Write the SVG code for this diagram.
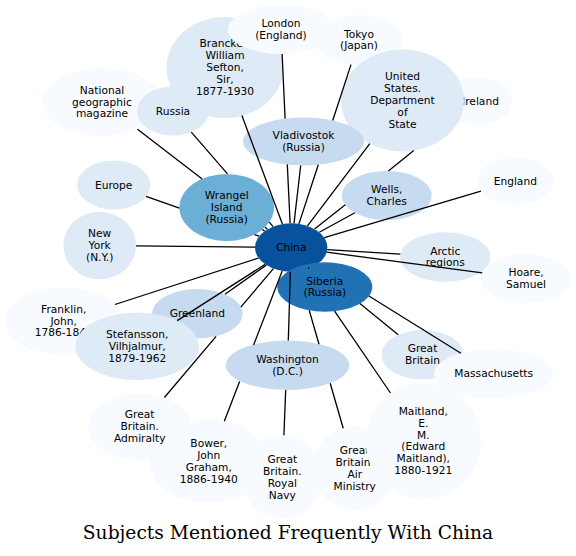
<svg xmlns="http://www.w3.org/2000/svg" width="576" height="556" viewBox="0 0 576 556">
<style>
.n text{font-family:"DejaVu Sans",Verdana,sans-serif;font-size:10.67px;text-anchor:middle;fill:#000}
.c1{fill:#f7fbff}.c2{fill:#deebf7}.c3{fill:#c6dbef}.c5{fill:#6baed6}.c7{fill:#2171b5}.c8{fill:#08519c}
#edges path{fill:none;stroke:#000;stroke-width:1.3}
.title{font-family:"DejaVu Serif",serif;font-size:18.67px;text-anchor:middle;fill:#000}
</style>
<rect width="576" height="556" fill="#fff"/>
<g id="nodes">
<g id="natgeo" class="n"><ellipse class="c1" cx="102" cy="102" rx="59.5" ry="34"/><text x="102" y="93.6">National</text><text x="102" y="105.5">geographic</text><text x="102" y="117.4">magazine</text></g>
<g id="russia" class="n"><ellipse class="c2" cx="173" cy="111" rx="36" ry="24.5"/><text x="173" y="114.5">Russia</text></g>
<g id="brancker" class="n"><ellipse class="c2" cx="225" cy="67.5" rx="58.5" ry="50.5"/><text x="225" y="47.2">Brancker,</text><text x="225" y="59.1">William</text><text x="225" y="71">Sefton,</text><text x="225" y="82.9">Sir,</text><text x="225" y="94.8">1877-1930</text></g>
<g id="london" class="n"><ellipse class="c1" cx="281" cy="29.5" rx="53" ry="24.5"/><text x="281" y="27.05">London</text><text x="281" y="38.95">(England)</text></g>
<g id="tokyo" class="n"><ellipse class="c1" cx="359" cy="40" rx="44" ry="25"/><text x="359" y="37.55">Tokyo</text><text x="359" y="49.45">(Japan)</text></g>
<g id="ireland" class="n"><ellipse class="c1" cx="477" cy="101" rx="35" ry="24"/><text x="480.5" y="104.5">Ireland</text></g>
<g id="state" class="n"><ellipse class="c2" cx="402.5" cy="100.5" rx="61.5" ry="51"/><text x="402.5" y="80.2">United</text><text x="402.5" y="92.1">States.</text><text x="402.5" y="104">Department</text><text x="402.5" y="115.9">of</text><text x="402.5" y="127.8">State</text></g>
<g id="vladivostok" class="n"><ellipse class="c3" cx="303.5" cy="141.5" rx="60.5" ry="24"/><text x="303.5" y="139.05">Vladivostok</text><text x="303.5" y="150.95">(Russia)</text></g>
<g id="europe" class="n"><ellipse class="c2" cx="113.7" cy="185" rx="36.5" ry="24.5"/><text x="113.7" y="188.5">Europe</text></g>
<g id="wrangel" class="n"><ellipse class="c5" cx="226.7" cy="207.5" rx="47.3" ry="33.5"/><text x="226.7" y="199.1">Wrangel</text><text x="226.7" y="211">Island</text><text x="226.7" y="222.9">(Russia)</text></g>
<g id="wells" class="n"><ellipse class="c3" cx="386.7" cy="195.5" rx="45" ry="24.5"/><text x="386.7" y="193.05">Wells,</text><text x="386.7" y="204.95">Charles</text></g>
<g id="england" class="n"><ellipse class="c1" cx="515.3" cy="181" rx="38" ry="24"/><text x="515.3" y="184.5">England</text></g>
<g id="newyork" class="n"><ellipse class="c2" cx="99.7" cy="245.5" rx="36.3" ry="33.8"/><text x="99.7" y="237.1">New</text><text x="99.7" y="249">York</text><text x="99.7" y="260.9">(N.Y.)</text></g>
<g id="china" class="n"><ellipse class="c8" cx="291.2" cy="247.5" rx="36.2" ry="24.2"/><text x="291.2" y="251">China</text></g>
<g id="siberia" class="n"><ellipse class="c7" cx="324.8" cy="287" rx="47.5" ry="24.7"/><text x="324.8" y="284.55">Siberia</text><text x="324.8" y="296.45">(Russia)</text></g>
<g id="arctic" class="n"><ellipse class="c2" cx="445.3" cy="257" rx="45.3" ry="24.7"/><text x="445.3" y="254.55">Arctic</text><text x="445.3" y="266.45">regions</text></g>
<g id="hoare" class="n"><ellipse class="c1" cx="526" cy="278.7" rx="45" ry="24.7"/><text x="526" y="276.25">Hoare,</text><text x="526" y="288.15">Samuel</text></g>
<g id="franklin" class="n"><ellipse class="c1" cx="63.7" cy="321" rx="58.7" ry="33.8"/><text x="63.7" y="312.6">Franklin,</text><text x="63.7" y="324.5">John,</text><text x="63.7" y="336.4">1786-1842</text></g>
<g id="greenland" class="n"><ellipse class="c3" cx="197.3" cy="313.7" rx="45.3" ry="24.7"/><text x="197.3" y="317.2">Greenland</text></g>
<g id="stefansson" class="n"><ellipse class="c2" cx="137.2" cy="346.3" rx="61.8" ry="33.7"/><text x="137.2" y="337.9">Stefansson,</text><text x="137.2" y="349.8">Vilhjalmur,</text><text x="137.2" y="361.7">1879-1962</text></g>
<g id="washington" class="n"><ellipse class="c3" cx="287.5" cy="365.3" rx="61.8" ry="24.7"/><text x="287.5" y="362.85">Washington</text><text x="287.5" y="374.75">(D.C.)</text></g>
<g id="greatbritain" class="n"><ellipse class="c2" cx="422.5" cy="354.7" rx="41" ry="24.7"/><text x="422.5" y="352.25">Great</text><text x="422.5" y="364.15">Britain</text></g>
<g id="massachusetts" class="n"><ellipse class="c1" cx="493.7" cy="373.8" rx="59.7" ry="24.5"/><text x="493.7" y="377.3">Massachusetts</text></g>
<g id="bower" class="n"><ellipse class="c1" cx="208.8" cy="461.5" rx="58.8" ry="41.7"/><text x="208.8" y="447.15">Bower,</text><text x="208.8" y="459.05">John</text><text x="208.8" y="470.95">Graham,</text><text x="208.8" y="482.85">1886-1940</text></g>
<g id="admiralty" class="n"><ellipse class="c1" cx="139.7" cy="426.7" rx="51.4" ry="33.3"/><text x="139.7" y="418.3">Great</text><text x="139.7" y="430.2">Britain.</text><text x="139.7" y="442.1">Admiralty</text></g>
<g id="royalnavy" class="n"><ellipse class="c1" cx="282.3" cy="477.2" rx="40" ry="42"/><text x="282.3" y="462.85">Great</text><text x="282.3" y="474.75">Britain.</text><text x="282.3" y="486.65">Royal</text><text x="282.3" y="498.55">Navy</text></g>
<g id="airministry" class="n"><ellipse class="c1" cx="354.7" cy="468.3" rx="42" ry="41.7"/><text x="354.7" y="453.95">Great</text><text x="354.7" y="465.85">Britain.</text><text x="354.7" y="477.75">Air</text><text x="354.7" y="489.65">Ministry</text></g>
<g id="maitland" class="n"><ellipse class="c1" cx="423.3" cy="441" rx="57.7" ry="58.3"/><text x="423.3" y="414.75">Maitland,</text><text x="423.3" y="426.65">E.</text><text x="423.3" y="438.55">M.</text><text x="423.3" y="450.45">(Edward</text><text x="423.3" y="462.35">Maitland),</text><text x="423.3" y="474.25">1880-1921</text></g>
</g>
<g id="edges">
<path d="M282.4,224 L241.9,115.5"/>
<path d="M282.1,54 L285.1,118.6 M287.3,164.4 L290.1,223.3"/>
<path d="M351,64.6 L332.7,120.5 M318.3,164.7 L298.9,223.9"/>
<path d="M294,223.4 L300.7,165.5"/>
<path d="M307.5,225.9 L369.8,143.7"/>
<path d="M314.6,229 L345.3,204.8 M388.4,170.9 L413.8,150.6"/>
<path d="M319.3,232.2 L354.9,212.8"/>
<path d="M324.3,237.7 L480.9,191.2"/>
<path d="M327.2,249.7 L400.3,254.2"/>
<path d="M326.7,252.2 L482.3,272.9"/>
<path d="M309.1,268.5 L308.2,267.4"/>
<path d="M359.9,303.6 L398.2,334.8"/>
<path d="M368.9,296 L460.9,353.3"/>
<path d="M334.6,311.1 L390.5,393"/>
<path d="M309.2,310.3 L319,344.2 M330.2,383.3 L343.2,428.2"/>
<path d="M290.4,271.7 L288.3,340.6"/>
<path d="M285.7,390 L283.9,435.2"/>
<path d="M282.2,270.9 L253.6,345 M239.6,381.6 L224.3,421.3"/>
<path d="M273.4,268.6 L240.8,307.1 M216.1,336.3 L164.4,397.5"/>
<path d="M266.3,265.1 L225,294.2"/>
<path d="M265.1,264.3 L177.2,320.6"/>
<path d="M258.6,258 L114.9,304.5"/>
<path d="M255,247.1 L136,245.9"/>
<path d="M259.2,236.2 L254.5,234.6 M179.4,208.1 L146,196.4"/>
<path d="M267.5,229.2 L264.9,227.3 M202.2,179 L137.5,129.3"/>
<path d="M273.1,226.6 L269.2,222.1 M227.5,173.9 L191.3,132.1"/>
<path d="M264.7,231 L262.3,229.6"/>
</g>
<text class="title" x="288" y="539">Subjects Mentioned Frequently With China</text>
</svg>
